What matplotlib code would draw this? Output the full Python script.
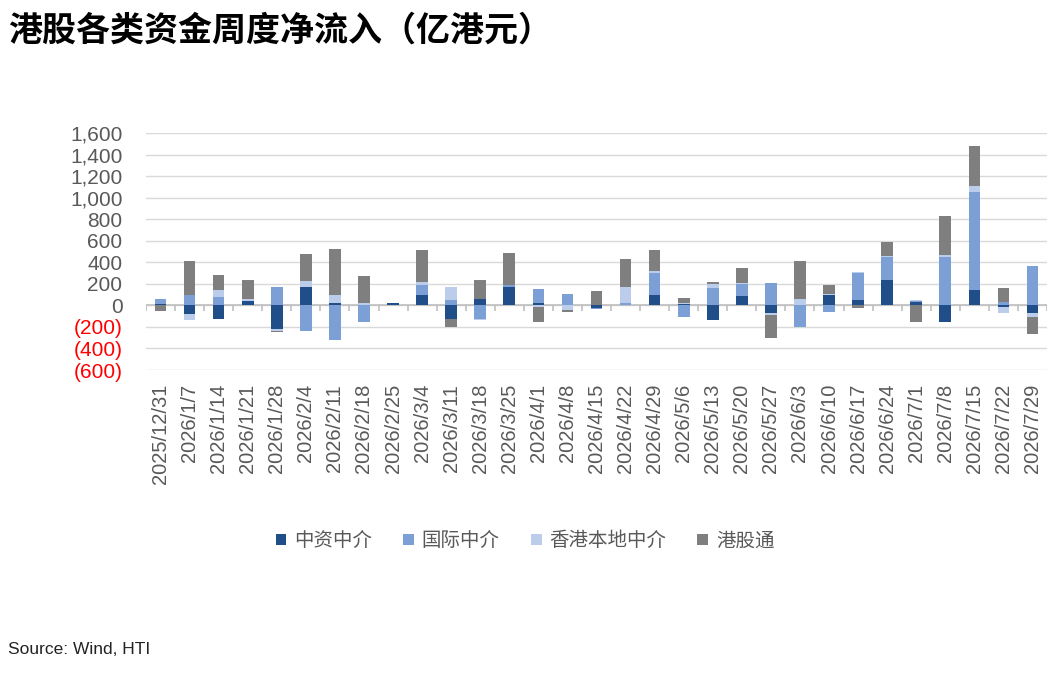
import matplotlib

matplotlib.use("Agg")

import matplotlib.pyplot as plt
import numpy as np
from matplotlib.patches import Patch
from matplotlib.ticker import FuncFormatter

plt.rcParams["font.family"] = ["Liberation Sans", "Noto Sans CJK SC", "DejaVu Sans"]

dates = ["2025/12/31", "2026/1/7", "2026/1/14", "2026/1/21", "2026/1/28", "2026/2/4",
         "2026/2/11", "2026/2/18", "2026/2/25", "2026/3/4", "2026/3/11", "2026/3/18",
         "2026/3/25", "2026/4/1", "2026/4/8", "2026/4/15", "2026/4/22", "2026/4/29",
         "2026/5/6", "2026/5/13", "2026/5/20", "2026/5/27", "2026/6/3", "2026/6/10",
         "2026/6/17", "2026/6/24", "2026/7/1", "2026/7/8", "2026/7/15", "2026/7/22",
         "2026/7/29"]

# weekly net inflow, 100m HKD
chinese_brokers = [15, -80, -130, 40, -220, 170, 25, 0, 25, 100, -130, 60,
                   170, 20, 0, -20, 0, 100, 15, -135, 90, -75, 0, 100,
                   50, 240, 30, -150, 145, -15, -75]
intl_brokers = [40, 100, 75, 0, 170, -240, -320, -150, 0, 90, 50, -130,
                20, 135, 110, -15, 20, 200, -105, 160, 105, 210, -200, -65,
                250, 205, 12, 445, 905, 30, 365]
local_brokers = [0, -60, 70, 15, -15, 60, 70, 20, 0, 25, 120, -10,
                 0, -15, -40, 0, 150, 20, 5, 35, 15, -10, 55, 10,
                 8, 12, 10, 20, 60, -55, -30]
southbound = [-55, 310, 135, 185, -10, 245, 430, 255, 0, 300, -75, 175,
              300, -135, -20, 135, 265, 190, 45, 20, 140, -215, 355, 80,
              -25, 130, -150, 365, 370, 135, -160]

series = [
    ("中资中介", chinese_brokers, "#1F4E89"),
    ("国际中介", intl_brokers, "#7C9FD6"),
    ("香港本地中介", local_brokers, "#BBCDEA"),
    ("港股通", southbound, "#7F7F7F"),
]

fig = plt.figure(figsize=(10.47, 6.75), dpi=100)
ax = fig.add_axes([146 / 1047, 1 - 370 / 675, 901 / 1047, 237 / 675])

x = np.arange(len(dates))
pos_base = np.zeros(len(dates))
neg_base = np.zeros(len(dates))
for name, vals, color in series:
    v = np.asarray(vals, dtype=float)
    pos = np.where(v > 0, v, 0)
    neg = np.where(v < 0, v, 0)
    ax.bar(x, pos, 0.4, bottom=pos_base, color=color, zorder=3)
    ax.bar(x, neg, 0.4, bottom=neg_base, color=color, zorder=3)
    pos_base += pos
    neg_base += neg

ax.set_ylim(-600, 1600)
ax.set_xlim(-0.5, len(dates) - 0.5)
ax.set_yticks(np.arange(-600, 1601, 200))
ax.yaxis.set_major_formatter(FuncFormatter(
    lambda v, _: f"({abs(v):,.0f})" if v < 0 else f"{v:,.0f}"))
ax.grid(axis="y", color="#D9D9D9", linewidth=1.0, zorder=0)
for s in ax.spines.values():
    s.set_visible(False)
ax.tick_params(axis="y", length=0, labelsize=15, labelcolor="#595959", pad=17)
for lab, v in zip(ax.get_yticklabels(), ax.get_yticks()):
    if v < 0:
        lab.set_color("#FF0000")

# category axis drawn at zero, labels below the plot
ax.axhline(0, color="#BFBFBF", linewidth=1.2, zorder=2)
ax.vlines(np.arange(len(dates) + 1) - 0.5, -55, 0, color="#BFBFBF", linewidth=1.2, zorder=2)
ax.set_xticks(x)
ax.set_xticklabels(dates, rotation=90, fontsize=14.5, color="#595959")
ax.tick_params(axis="x", length=0, pad=10)

handles = [Patch(facecolor=c, edgecolor="none") for _, _, c in series]
fig.legend(handles, [n for n, _, _ in series], loc="center", ncol=4,
           bbox_to_anchor=(525 / 1047, 1 - 541 / 675), frameon=False,
           handlelength=0.55, handleheight=0.55, handletextpad=0.4,
           columnspacing=1.6,
           prop={"family": ["Noto Sans CJK SC"], "size": 14})
for t in fig.legends[0].get_texts():
    t.set_color("#595959")

fig.text(8 / 1047, 1 - 30 / 675, "港股各类资金周度净流入（亿港元）", fontsize=24.5,
         fontweight="bold", family=["Noto Sans CJK SC"], va="center", ha="left")
fig.text(8 / 1047, 1 - 650 / 675, "Source: Wind, HTI", fontsize=12.5,
         va="center", ha="left", color="#222222")

fig.savefig("out.png", dpi=100)
